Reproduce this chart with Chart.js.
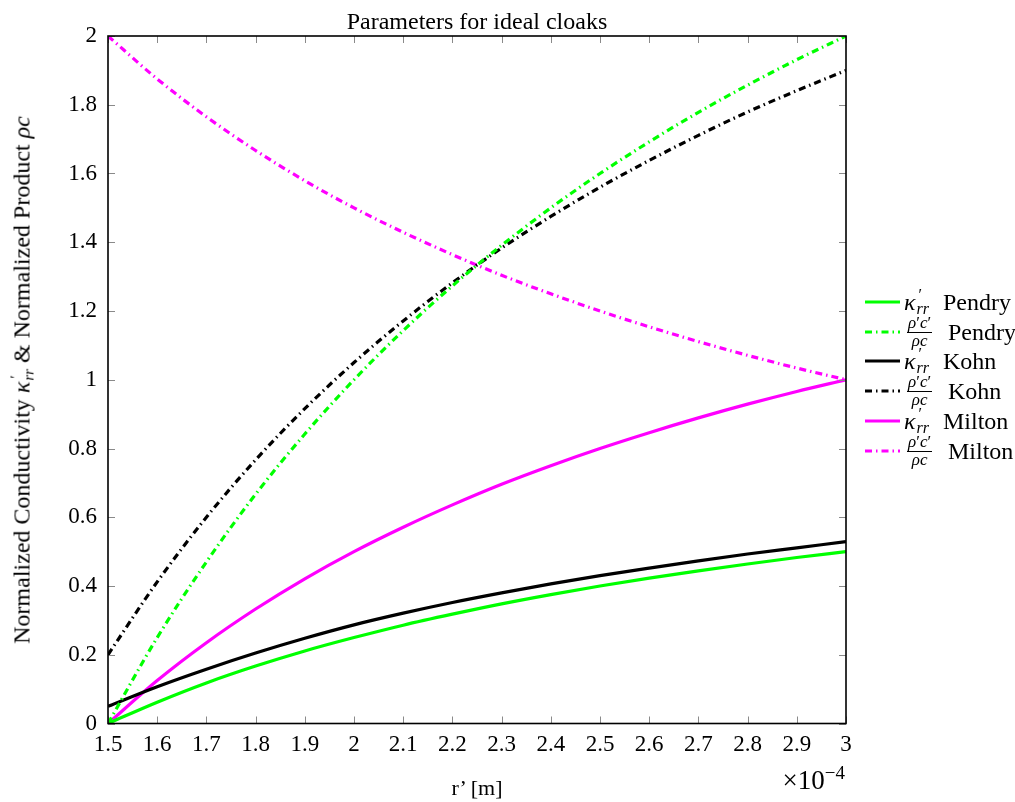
<!DOCTYPE html>
<html>
<head>
<meta charset="utf-8">
<script src="https://cdn.jsdelivr.net/npm/chart.js@4.4.1/dist/chart.umd.min.js"></script>
<style>
body { margin: 0; background: #fff; }
#wrap { position: relative; width: 1015px; height: 802px; font-family: "Liberation Serif", serif; color: #000; }
canvas { position: absolute; left: 0; top: 0; }
.title { position: absolute; left: 108px; width: 738px; top: 9px; text-align: center; font-size: 24px; line-height: 24px; }
.ylab { position: absolute; left: 22px; top: 380px; transform: translate(-50%, -50%) rotate(-90deg); white-space: nowrap; font-size: 24px; display: flex; align-items: center; }
.ylab .ss { font-size: 15px; line-height: 13px; margin: 0 6px 0 1px; }
.xlab { position: absolute; left: 108px; width: 738px; top: 777px; text-align: center; font-size: 22px; line-height: 22px; }
.mult { position: absolute; right: 170px; top: 759px; font-size: 27px; line-height: 27px; }
.mult sup { font-size: 19px; vertical-align: 10px; }
.leg { position: absolute; left: 865px; transform: translateY(-50%); display: flex; align-items: center; font-size: 24px; height: 30px; }
.leg svg { display: block; }
.math { display: flex; align-items: center; width: 43px; padding-left: 4px; box-sizing: border-box; }
.math.f { width: 48px; padding-left: 7px; }
.math i.k { font-size: 24px; }
.ss { display: inline-flex; flex-direction: column; font-size: 16px; line-height: 14px; margin-left: 1px; }
.ss .p { padding-left: 2px; }
.frac { display: inline-flex; flex-direction: column; align-items: center; font-size: 17px; line-height: 16px; }
.frac .num { border-bottom: 1px solid #000; padding: 0 1px 1px; }
</style>
</head>
<body>
<div id="wrap">
  <canvas id="chart" width="1015" height="802"></canvas>
  <div class="title">Parameters for ideal cloaks</div>
  <div class="ylab">Normalized Conductivity&nbsp;<i>κ</i><span class="ss"><span class="p">′</span><span><i>rr</i></span></span>&amp; Normalized Product&nbsp;<i>ρc</i></div>
  <div class="xlab">r’ [m]</div>
  <div class="mult">×10<sup>−4</sup></div>
  <div id="legend"></div>
</div>
<script>
// r' in units of 1e-4 m
const rValues = [1.5, 1.6, 1.7, 1.8, 1.9, 2.0, 2.1, 2.2, 2.3, 2.4, 2.5, 2.6, 2.7, 2.8, 2.9, 3.0];

const pendryKappa = [0, 0.062, 0.118, 0.167, 0.211, 0.25, 0.286, 0.318, 0.348, 0.375, 0.40, 0.423, 0.444, 0.464, 0.483, 0.50];
const pendryRhoC  = [0, 0.25, 0.47, 0.667, 0.842, 1.00, 1.143, 1.273, 1.391, 1.50, 1.60, 1.692, 1.778, 1.857, 1.931, 2.00];
const kohnKappa   = [0.05, 0.107, 0.158, 0.205, 0.248, 0.287, 0.321, 0.352, 0.380, 0.406, 0.430, 0.452, 0.473, 0.493, 0.511, 0.529];
const kohnRhoC    = [0.20, 0.412, 0.60, 0.767, 0.916, 1.05, 1.171, 1.282, 1.383, 1.475, 1.56, 1.638, 1.711, 1.779, 1.841, 1.90];
const miltonKappa = [0, 0.125, 0.235, 0.333, 0.421, 0.50, 0.571, 0.636, 0.696, 0.75, 0.80, 0.846, 0.889, 0.929, 0.966, 1.00];
const miltonRhoC  = [2.00, 1.875, 1.765, 1.667, 1.579, 1.50, 1.429, 1.364, 1.304, 1.25, 1.20, 1.154, 1.111, 1.071, 1.034, 1.00];

const yTicks = [0, 0.2, 0.4, 0.6, 0.8, 1, 1.2, 1.4, 1.6, 1.8, 2];

const GREEN = '#00ff00', BLACK = '#000000', MAGENTA = '#ff00ff';
const DASHDOT = [7, 4, 1.5, 4];

const series = [
  { name: 'Pendry', kind: 'kappa', data: pendryKappa, color: GREEN },
  { name: 'Pendry', kind: 'rho',   data: pendryRhoC,  color: GREEN },
  { name: 'Kohn',   kind: 'kappa', data: kohnKappa,   color: BLACK },
  { name: 'Kohn',   kind: 'rho',   data: kohnRhoC,    color: BLACK },
  { name: 'Milton', kind: 'kappa', data: miltonKappa, color: MAGENTA },
  { name: 'Milton', kind: 'rho',   data: miltonRhoC,  color: MAGENTA }
];

const fmt = v => String(Number(v.toFixed(1)));

// ticks inside the frame on all four sides + black box
const frameTicks = {
  id: 'frameTicks',
  afterDraw(chart) {
    const { ctx, chartArea: a, scales: { x, y } } = chart;
    ctx.save();
    ctx.strokeStyle = '#8a8a8a';
    ctx.lineWidth = 1;
    ctx.beginPath();
    x.ticks.forEach(t => {
      const px = Math.round(x.getPixelForValue(t.value)) + 0.5;
      ctx.moveTo(px, a.bottom); ctx.lineTo(px, a.bottom - 7);
      ctx.moveTo(px, a.top);    ctx.lineTo(px, a.top + 7);
    });
    y.ticks.forEach(t => {
      const py = Math.round(y.getPixelForValue(t.value)) + 0.5;
      ctx.moveTo(a.left, py);  ctx.lineTo(a.left + 7, py);
      ctx.moveTo(a.right, py); ctx.lineTo(a.right - 7, py);
    });
    ctx.stroke();
    ctx.strokeStyle = '#000';
    ctx.lineWidth = 1.6;
    ctx.strokeRect(a.left, a.top, a.width, a.height);
    ctx.restore();
  }
};

Chart.defaults.font.family = '"Liberation Serif", serif';
Chart.defaults.font.size = 23;
Chart.defaults.color = '#000';

new Chart(document.getElementById('chart'), {
  type: 'line',
  data: {
    datasets: series.map(s => ({
      label: s.name,
      data: rValues.map((r, i) => ({ x: r, y: s.data[i] })),
      borderColor: s.color,
      backgroundColor: s.color,
      borderWidth: 3.2,
      borderDash: s.kind === 'rho' ? DASHDOT : [],
      pointRadius: 0,
      cubicInterpolationMode: 'monotone',
      fill: false
    }))
  },
  options: {
    responsive: false,
    animation: false,
    layout: { padding: { top: 36, right: 169, bottom: 0, left: 0 } },
    plugins: { legend: { display: false }, title: { display: false }, tooltip: { enabled: false } },
    scales: {
      x: {
        type: 'linear', min: 1.5, max: 3,
        grid: { display: false, drawTicks: false },
        border: { display: false },
        ticks: { stepSize: 0.1, autoSkip: false, maxRotation: 0, padding: 8, callback: v => fmt(v) },
        afterFit: s => { s.height = 78.5; }
      },
      y: {
        min: 0, max: 2,
        grid: { display: false, drawTicks: false },
        border: { display: false },
        afterBuildTicks: s => { s.ticks = yTicks.map(v => ({ value: v })); },
        ticks: { padding: 11, callback: v => fmt(v) },
        afterFit: s => { s.width = 108; }
      }
    }
  },
  plugins: [frameTicks]
});

// legend
const legendRows = [302, 332, 361, 391, 421, 451];
const legend = document.getElementById('legend');
series.forEach((s, i) => {
  const row = document.createElement('div');
  row.className = 'leg';
  row.style.top = legendRows[i] + 'px';
  const dash = s.kind === 'rho' ? ' stroke-dasharray="' + DASHDOT.join(' ') + '"' : '';
  const math = s.kind === 'kappa'
    ? '<span class="math"><i class="k">κ</i><span class="ss"><span class="p">′</span><span><i>rr</i></span></span></span>'
    : '<span class="math f"><span class="frac"><span class="num"><i>ρ</i>′<i>c</i>′</span><span><i>ρc</i></span></span></span>';
  row.innerHTML = '<svg width="35" height="6"><line x1="0" y1="3" x2="35" y2="3" stroke="' + s.color + '" stroke-width="3"' + dash + '/></svg>' +
    math + '<span>' + s.name + '</span>';
  legend.appendChild(row);
});
</script>
</body>
</html>
